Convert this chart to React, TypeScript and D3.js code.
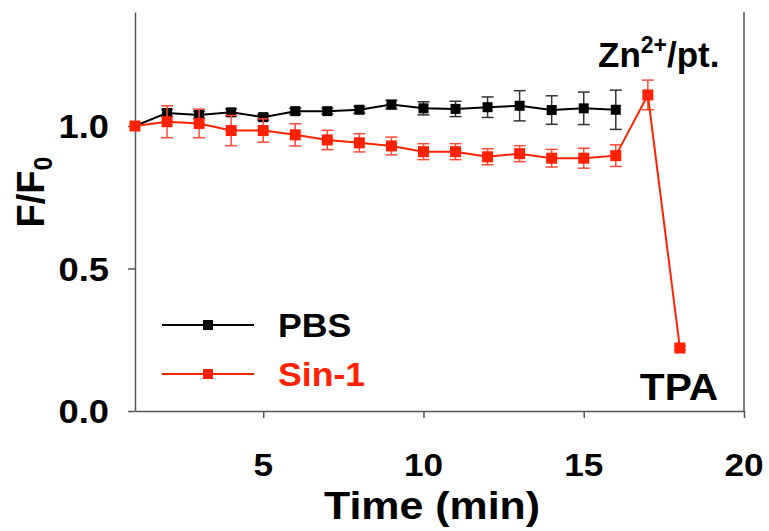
import { useEffect, useRef } from "react";
import * as d3 from "d3";

// time points (min)
const timePbs = [1, 2, 3, 4, 5, 6, 7, 8, 9, 10, 11, 12, 13, 14, 15, 16];
const timeSin = [1, 2, 3, 4, 5, 6, 7, 8, 9, 10, 11, 12, 13, 14, 15, 16, 17, 18];

// F/F0 values
const pbsValues = [1.0, 1.046, 1.039, 1.048, 1.031, 1.052, 1.052, 1.057, 1.075, 1.062, 1.06, 1.066, 1.071, 1.056, 1.062, 1.057];
const pbsErrors = [0, 0.012, 0.012, 0.012, 0.01, 0.01, 0.01, 0.012, 0.015, 0.023, 0.027, 0.036, 0.053, 0.05, 0.057, 0.069];
const sinValues = [1.0, 1.015, 1.009, 0.984, 0.984, 0.969, 0.951, 0.941, 0.93, 0.91, 0.91, 0.892, 0.903, 0.887, 0.887, 0.896, 1.109, 0.221];
const sinErrors = [0, 0.056, 0.05, 0.053, 0.041, 0.039, 0.034, 0.032, 0.031, 0.028, 0.028, 0.028, 0.028, 0.031, 0.035, 0.038, 0.052, 0.006];

const xTicks = [5, 10, 15, 20];
const yTicks = [0, 0.5, 1.0];

const RED = "#ff2200";
const FONT = "'Liberation Sans', Arial, sans-serif";

const App = () => {
  const ref = useRef<SVGSVGElement>(null);

  useEffect(() => {
    const width = 769;
    const height = 531;
    const margin = { top: 12, right: 25, bottom: 120, left: 135 };

    const svg = d3.select(ref.current);
    svg.selectAll("*").remove();

    const x = d3.scaleLinear().domain([1, 20]).range([margin.left, width - margin.right]);
    const y = d3.scaleLinear().domain([0, 1.4]).range([height - margin.bottom, margin.top]);

    // bold text, a little wider than the font (the figure is stretched)
    const label = (px, py, size, anchor, color = "#000", sx = 1.1) =>
      svg.append("text")
        .attr("transform", `translate(${px},${py}) scale(${sx},1)`)
        .attr("text-anchor", anchor)
        .attr("font-family", FONT).attr("font-weight", "bold").attr("font-size", size)
        .attr("fill", color);

    // x axis
    const xAxis = svg.append("g")
      .attr("transform", `translate(0,${y(0)})`)
      .call(d3.axisBottom(x).tickValues(xTicks).tickSize(7).tickFormat(() => "").tickSizeOuter(0));
    xAxis.select(".domain").attr("stroke", "#555").attr("stroke-width", 1.5);
    xAxis.selectAll(".tick line").attr("stroke", "#555").attr("stroke-width", 1.5);
    xTicks.forEach(t => label(x(t), y(0) + 65, 32, "middle").text(d3.format("d")(t)));

    // y axis
    const yAxis = svg.append("g")
      .attr("transform", `translate(${x(1)},0)`)
      .call(d3.axisLeft(y).tickValues(yTicks).tickSize(7).tickFormat(() => "").tickSizeOuter(0));
    yAxis.select(".domain").attr("stroke", "#555").attr("stroke-width", 1.5);
    yAxis.selectAll(".tick line").attr("stroke", "#555").attr("stroke-width", 1.5);
    yTicks.forEach(t => label(109, y(t) + 12, 33, "end").text(d3.format(".1f")(t)));

    // right frame line
    svg.append("line")
      .attr("x1", x(20)).attr("x2", x(20))
      .attr("y1", y(1.4)).attr("y2", y(0))
      .attr("stroke", "#555").attr("stroke-width", 1.5);

    const drawSeries = (times, values, errors, color, errColor, size) => {
      const g = svg.append("g");
      const pts = times.map((t, i) => ({ t, v: values[i], e: errors[i] }));
      // error bars
      const eb = g.selectAll(".err").data(pts.filter(d => d.e > 0)).enter().append("g");
      eb.append("line")
        .attr("x1", d => x(d.t)).attr("x2", d => x(d.t))
        .attr("y1", d => y(d.v + d.e)).attr("y2", d => y(d.v - d.e))
        .attr("stroke", errColor).attr("stroke-width", 1.5);
      [1, -1].forEach(s => {
        eb.append("line")
          .attr("x1", d => x(d.t) - 6).attr("x2", d => x(d.t) + 6)
          .attr("y1", d => y(d.v + s * d.e)).attr("y2", d => y(d.v + s * d.e))
          .attr("stroke", errColor).attr("stroke-width", 1.5);
      });
      const line = d3.line<{ t: number; v: number }>().x(d => x(d.t)).y(d => y(d.v));
      g.append("path").datum(pts).attr("d", line)
        .attr("fill", "none").attr("stroke", color).attr("stroke-width", 2);
      g.selectAll(".pt").data(pts).enter().append("rect")
        .attr("x", d => x(d.t) - size / 2).attr("y", d => y(d.v) - size / 2)
        .attr("width", size).attr("height", size).attr("fill", color);
    };

    drawSeries(timePbs, pbsValues, pbsErrors, "#000", "#333", 10);
    drawSeries(timeSin, sinValues, sinErrors, RED, "#ff4a3a", 11);

    // legend
    const legend = [
      { name: "PBS", color: "#000", yy: 325 },
      { name: "Sin-1", color: RED, yy: 374 },
    ];
    legend.forEach(l => {
      svg.append("line").attr("x1", 162).attr("x2", 254).attr("y1", l.yy).attr("y2", l.yy)
        .attr("stroke", l.color).attr("stroke-width", 2);
      svg.append("rect").attr("x", 203).attr("y", l.yy - 5).attr("width", 10).attr("height", 10).attr("fill", l.color);
      label(278, l.yy + 12, 33, "start", l.color, 1.08).text(l.name);
    });

    // annotations
    const zn = label(598, 67, 35, "start", "#000", 1.0);
    zn.append("tspan").text("Zn");
    zn.append("tspan").attr("font-size", 23).attr("dy", -14).text("2+");
    zn.append("tspan").attr("dy", 14).text("/pt.");

    label(679, 400, 37, "middle", "#000", 1.1).text("TPA");

    // axis titles
    label(432, 519, 39, "middle", "#000", 1.1).text("Time (min)");

    const yt = svg.append("text")
      .attr("transform", `translate(44,192) rotate(-90)`).attr("text-anchor", "middle")
      .attr("font-family", FONT).attr("font-weight", "bold").attr("font-size", 38).attr("fill", "#000");
    yt.append("tspan").text("F/F");
    yt.append("tspan").attr("font-size", 25).attr("dy", 8).text("0");
  }, []);

  return (
    <svg ref={ref} width={769} height={531}
      style={{ position: "absolute", left: 0, top: 0, background: "#fff" }} />
  );
};

export default App;
